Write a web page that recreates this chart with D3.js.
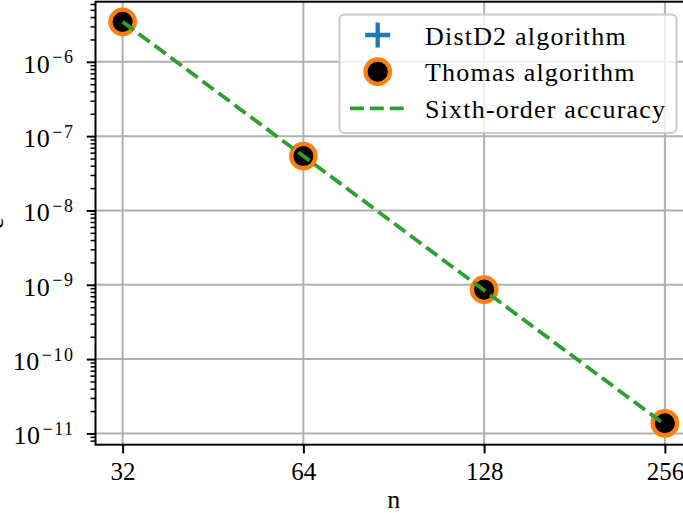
<!DOCTYPE html>
<html lang="en">
<head>
    <meta charset="UTF-8">
    <title>DistD2 vs Thomas convergence</title>
    <script src="https://cdnjs.cloudflare.com/ajax/libs/d3/7.8.5/d3.min.js"></script>
    <style>
        body { margin: 0; background: white; overflow: hidden; }
        svg { display: block; font-family: "Liberation Serif", serif; }
        .grid line { stroke: #b0b0b0; stroke-width: 2px; }
    </style>
</head>
<body>
<svg id="chart" width="683" height="513"></svg>
<script>
    // data
    const nValues = [32, 64, 128, 256];
    const distD2Error = [3.45e-6, 5.4e-8, 8.6e-10, 1.37e-11];
    const thomasError = [3.45e-6, 5.4e-8, 8.6e-10, 1.37e-11];
    const sixthOrder = [3.45e-6, 5.39e-8, 8.42e-10, 1.316e-11];
    const yTickExponents = [-11, -10, -9, -8, -7, -6];
    const legendLabels = ["DistD2 algorithm", "Thomas algorithm", "Sixth-order accuracy"];

    const blue = "#1f77b4", orange = "#ff7f0e", green = "#2ca02c";
    const plotLeft = 95.5, plotRight = 692, plotTop = 1.7, plotBottom = 444.7;
    const fontSize = 26;

    const svg = d3.select("#chart");

    // log axes with 5% margins like matplotlib
    const allY = distD2Error.concat(thomasError, sixthOrder);
    const lyMin = Math.log10(d3.min(allY)), lyMax = Math.log10(d3.max(allY));
    const yPad = (lyMax - lyMin) * 0.05;
    const lxMin = Math.log2(d3.min(nValues)), lxMax = Math.log2(d3.max(nValues));
    const xPad = (lxMax - lxMin) * 0.05;

    const x = d3.scaleLog().base(2)
        .domain([Math.pow(2, lxMin - xPad), Math.pow(2, lxMax + xPad)])
        .range([plotLeft, plotRight]);
    const y = d3.scaleLog()
        .domain([Math.pow(10, lyMin - yPad), Math.pow(10, lyMax + yPad)])
        .range([plotBottom, plotTop]);

    const majorY = yTickExponents.map(e => Math.pow(10, e));
    const minorY = [];
    for (let e = -12; e <= -5; e++) {
        for (let m = 2; m <= 9; m++) {
            const v = m * Math.pow(10, e);
            if (v >= y.domain()[0] && v <= y.domain()[1]) minorY.push(v);
        }
    }

    // grid
    const grid = svg.append("g").attr("class", "grid");
    grid.selectAll(".gx").data(nValues).enter().append("line")
        .attr("x1", d => x(d)).attr("x2", d => x(d))
        .attr("y1", plotTop).attr("y2", plotBottom);
    grid.selectAll(".gy").data(majorY).enter().append("line")
        .attr("x1", plotLeft).attr("x2", plotRight)
        .attr("y1", d => y(d)).attr("y2", d => y(d));

    // DistD2 (hidden under Thomas markers)
    const plus = "M-12.5,0H12.5M0,-12.5V12.5";
    svg.append("g").selectAll("path").data(nValues).enter().append("path")
        .attr("d", plus)
        .attr("transform", (d, i) => `translate(${x(d)},${y(distD2Error[i])})`)
        .attr("stroke", blue).attr("stroke-width", 4.3).attr("fill", "none");

    // Thomas
    svg.append("g").selectAll("circle").data(nValues).enter().append("circle")
        .attr("cx", d => x(d))
        .attr("cy", (d, i) => y(thomasError[i]))
        .attr("r", 12.2)
        .attr("fill", "black")
        .attr("stroke", orange).attr("stroke-width", 4.3);

    // sixth-order reference
    const line = d3.line().x(d => x(d[0])).y(d => y(d[1]));
    svg.append("path")
        .datum(nValues.map((n, i) => [n, sixthOrder[i]]))
        .attr("d", line)
        .attr("fill", "none")
        .attr("stroke", green).attr("stroke-width", 3.75)
        .attr("stroke-dasharray", "13.9,6");

    // x axis
    const xAxis = svg.append("g")
        .attr("transform", `translate(0,${plotBottom})`)
        .call(d3.axisBottom(x).tickValues(nValues).tickFormat(d3.format("d"))
            .tickSize(8.75).tickPadding(9));
    xAxis.select(".domain").remove();
    xAxis.selectAll(".tick line").attr("stroke-width", 2);
    xAxis.selectAll(".tick text")
        .attr("font-family", "Liberation Serif, serif")
        .attr("font-size", 25).attr("fill", "black");

    // y axis minor ticks
    const yMinor = svg.append("g")
        .attr("transform", `translate(${plotLeft},0)`)
        .call(d3.axisLeft(y).tickValues(minorY).tickFormat("").tickSize(5));
    yMinor.select(".domain").remove();
    yMinor.selectAll(".tick line").attr("stroke-width", 1.5);

    // y axis major ticks
    const yAxis = svg.append("g")
        .attr("transform", `translate(${plotLeft},0)`)
        .call(d3.axisLeft(y).tickValues(majorY).tickFormat("").tickSize(8.75));
    yAxis.select(".domain").remove();
    yAxis.selectAll(".tick line").attr("stroke-width", 2);
    yAxis.selectAll(".tick").each(function(d) {
        const t = d3.select(this).select("text")
            .attr("x", -21).attr("dy", null).attr("y", 10.5)
            .attr("font-family", "Liberation Serif, serif")
            .attr("font-size", fontSize).attr("fill", "black")
            .attr("text-anchor", "end");
        t.append("tspan").attr("letter-spacing", 0.5).text("10");
        t.append("tspan").attr("dx", 2).attr("dy", -9.5)
            .attr("font-size", 18).attr("letter-spacing", 1.5)
            .text("\u2212" + Math.abs(Math.round(Math.log10(d))));
    });

    // spines
    svg.append("rect")
        .attr("x", plotLeft).attr("y", plotTop)
        .attr("width", plotRight - plotLeft).attr("height", plotBottom - plotTop)
        .attr("fill", "none").attr("stroke", "black").attr("stroke-width", 2);

    // axis labels
    svg.append("text")
        .attr("x", (plotLeft + plotRight) / 2).attr("y", 508)
        .attr("text-anchor", "middle").attr("font-size", fontSize)
        .text("n");
    svg.append("text")
        .attr("transform", `translate(2.5,${(plotTop + plotBottom) / 2}) rotate(-90)`)
        .attr("text-anchor", "middle").attr("font-size", fontSize)
        .text("e");

    // legend
    const legend = svg.append("g");
    legend.append("rect")
        .attr("x", 339.5).attr("y", 14.5).attr("width", 337).attr("height", 118.5)
        .attr("rx", 5)
        .attr("fill", "white").attr("fill-opacity", 0.8)
        .attr("stroke", "#cccccc").attr("stroke-width", 2);
    const rowY = [35, 71.7, 108.3];
    const handleX = 377.7;
    legend.append("path").attr("d", plus)
        .attr("transform", `translate(${handleX},${rowY[0]})`)
        .attr("stroke", blue).attr("stroke-width", 4.3).attr("fill", "none");
    legend.append("circle")
        .attr("cx", handleX).attr("cy", rowY[1]).attr("r", 12.2)
        .attr("fill", "black").attr("stroke", orange).attr("stroke-width", 4.3);
    legend.append("line")
        .attr("x1", 350).attr("x2", 404).attr("y1", rowY[2]).attr("y2", rowY[2])
        .attr("stroke", green).attr("stroke-width", 3.75)
        .attr("stroke-dasharray", "13.9,6");
    legend.selectAll(".label").data(legendLabels).enter().append("text")
        .attr("x", 425).attr("y", (d, i) => rowY[i] + 9.5)
        .attr("font-size", fontSize)
        .attr("letter-spacing", 1.2)
        .text(d => d);
</script>
</body>
</html>
